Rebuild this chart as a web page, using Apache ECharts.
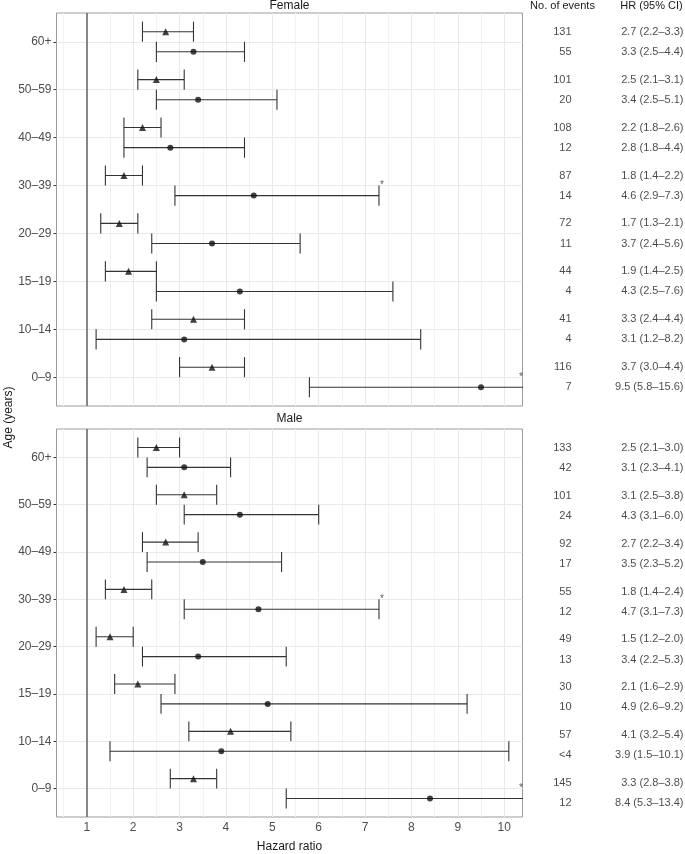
<!DOCTYPE html>
<html><head><meta charset="utf-8">
<script src="https://cdn.jsdelivr.net/npm/echarts@6/dist/echarts.min.js"></script>
<style>html,body{margin:0;padding:0;background:#fff}#c{width:685px;height:854px}</style>
</head><body><div id="c"></div>
<script>
const ageGroups = ['60+', '50–59', '40–49', '30–39', '20–29', '15–19', '10–14', '0–9'];
const xTickValues = [1, 2, 3, 4, 5, 6, 7, 8, 9, 10];
const xMinorValues = [0.5, 1.5, 2.5, 3.5, 4.5, 5.5, 6.5, 7.5, 8.5, 9.5];
const refLine = [1];
const femaleTriEvents = [131, 101, 108, 87, 72, 44, 41, 116];
const femaleTriHR = [2.7, 2.5, 2.2, 1.8, 1.7, 1.9, 3.3, 3.7];
const femaleTriLo = [2.2, 2.1, 1.8, 1.4, 1.3, 1.4, 2.4, 3.0];
const femaleTriHi = [3.3, 3.1, 2.6, 2.2, 2.1, 2.5, 4.4, 4.4];
const femaleCirEvents = [55, 20, 12, 14, 11, 4, 4, 7];
const femaleCirHR = [3.3, 3.4, 2.8, 4.6, 3.7, 4.3, 3.1, 9.5];
const femaleCirLo = [2.5, 2.5, 1.8, 2.9, 2.4, 2.5, 1.2, 5.8];
const femaleCirHi = [4.4, 5.1, 4.4, 7.3, 5.6, 7.6, 8.2, 15.6];
const femaleCirStar = [0, 0, 0, 1, 0, 0, 0, 1];
const maleTriEvents = [133, 101, 92, 55, 49, 30, 57, 145];
const maleTriHR = [2.5, 3.1, 2.7, 1.8, 1.5, 2.1, 4.1, 3.3];
const maleTriLo = [2.1, 2.5, 2.2, 1.4, 1.2, 1.6, 3.2, 2.8];
const maleTriHi = [3.0, 3.8, 3.4, 2.4, 2.0, 2.9, 5.4, 3.8];
const maleCirEvents = [42, 24, 17, 12, 13, 10, '<4', 12];
const maleCirHR = [3.1, 4.3, 3.5, 4.7, 3.4, 4.9, 3.9, 8.4];
const maleCirLo = [2.3, 3.1, 2.3, 3.1, 2.2, 2.6, 1.5, 5.3];
const maleCirHi = [4.1, 6.0, 5.2, 7.3, 5.3, 9.2, 10.1, 13.4];
const maleCirStar = [0, 0, 0, 1, 0, 0, 0, 1];

const FONT = "'Liberation Sans',Arial,Helvetica,sans-serif";
const X_MIN = 0.346, X_MAX = 10.395;
const Y_MIN = -0.6, Y_MAX = 7.6;
const ROW_OFF = 0.21, CAP = 0.21;
const PLOT_LEFT = 56.5, PLOT_W = 466, PANEL_H = 393;
const PANEL_TOPS = [13, 429];
const TABLE_LEFT = 523, TABLE_W = 162;
const COL_EVENTS = (572 - TABLE_LEFT) / TABLE_W;
const COL_HR = (684 - TABLE_LEFT) / TABLE_W;
const BAR_COLOR = '#333';
const TEXT_DARK = '#1a1a1a';
const TICK_TEXT = '#4d4d4d';

const panels = [
  {tri: {ev: femaleTriEvents, hr: femaleTriHR, lo: femaleTriLo, hi: femaleTriHi},
   cir: {ev: femaleCirEvents, hr: femaleCirHR, lo: femaleCirLo, hi: femaleCirHi, star: femaleCirStar}},
  {tri: {ev: maleTriEvents, hr: maleTriHR, lo: maleTriLo, hi: maleTriHi},
   cir: {ev: maleCirEvents, hr: maleCirHR, lo: maleCirLo, hi: maleCirHi, star: maleCirStar}}
];
const catIdx = ageGroups.map((_, i) => i);
function fmtHR(h, l, u) { return h.toFixed(1) + ' (' + l.toFixed(1) + '–' + u.toFixed(1) + ')'; }

function guideLines(g, dim, values, color, width, z) {
  return {type: 'line', xAxisIndex: g, yAxisIndex: g, z: z, silent: true, animation: false, data: [],
    markLine: {silent: true, animation: false, symbol: ['none', 'none'], z: z,
      label: {show: false}, emphasis: {disabled: true},
      lineStyle: {color: color, width: width, type: 'solid'},
      data: values.map(v => ({[dim]: v}))}};
}
function errBars(g, d, off) {
  return {type: 'custom', xAxisIndex: g, yAxisIndex: g, z: 5, silent: true, animation: false, clip: true,
    data: catIdx.map(i => [d.lo[i], d.hi[i], i + off]), encode: {x: [0, 1], y: 2},
    renderItem(params, api) {
      const lo = api.value(0), hi = api.value(1), y = api.value(2);
      const p1 = api.coord([lo, y]), p2 = api.coord([hi, y]);
      const t = api.coord([lo, y - CAP])[1], b = api.coord([lo, y + CAP])[1];
      const st = () => ({stroke: BAR_COLOR, lineWidth: 1.1});
      return {type: 'group', children: [
        {type: 'line', shape: {x1: p1[0], y1: p1[1], x2: p2[0], y2: p2[1]}, style: st()},
        {type: 'line', shape: {x1: p1[0], y1: t, x2: p1[0], y2: b}, style: st()},
        {type: 'line', shape: {x1: p2[0], y1: t, x2: p2[0], y2: b}, style: st()}
      ]};
    }};
}
function points(g, d, off, symbol, size) {
  return {type: 'scatter', xAxisIndex: g, yAxisIndex: g, z: 6, silent: true, animation: false,
    symbol: symbol, symbolSize: size, itemStyle: {color: '#111'},
    data: catIdx.map(i => [d.hr[i], i + off])};
}
function stars(g, d, off) {
  const data = catIdx.filter(i => d.star[i]).map(i => [Math.min(d.hi[i], X_MAX - 0.1), i + off]);
  return {type: 'scatter', xAxisIndex: g, yAxisIndex: g, z: 7, silent: true, animation: false,
    symbolSize: 1, itemStyle: {color: 'transparent'},
    label: {show: true, formatter: '*', position: 'inside', offset: [3, -10],
      fontFamily: FONT, fontSize: 10, color: '#333'},
    data: data};
}
function tableText(g, d, off) {
  const mk = (col, fn) => ({type: 'scatter', xAxisIndex: g, yAxisIndex: g, silent: true, animation: false,
    symbolSize: 1, itemStyle: {color: 'transparent'},
    label: {show: true, position: 'left', distance: 0, formatter: p => p.value[2],
      fontFamily: FONT, fontSize: 11, color: TEXT_DARK},
    data: catIdx.map(i => [col, i + off, fn(i)])});
  return [mk(COL_EVENTS, i => String(d.ev[i])), mk(COL_HR, i => fmtHR(d.hr[i], d.lo[i], d.hi[i]))];
}

const grids = [], xAxes = [], yAxes = [], series = [];
PANEL_TOPS.forEach((top) => {
  grids.push({left: PLOT_LEFT, top: top, width: PLOT_W, height: PANEL_H, show: true,
    borderColor: '#9a9a9a', borderWidth: 1, backgroundColor: 'transparent', containLabel: false});
});
PANEL_TOPS.forEach((top) => {
  grids.push({left: TABLE_LEFT, top: top, width: TABLE_W, height: PANEL_H, show: false, containLabel: false});
});
for (let p = 0; p < 2; p++) {
  const bottom = p === 1;
  xAxes.push({gridIndex: p, type: 'value', min: X_MIN, max: X_MAX,
    axisLine: {show: false}, splitLine: {show: false},
    axisTick: {show: bottom, customValues: xTickValues, length: 3, lineStyle: {color: '#333'}},
    axisLabel: {show: bottom, customValues: xTickValues, margin: 5, fontFamily: FONT, fontSize: 12, color: TICK_TEXT},
    name: bottom ? 'Hazard ratio' : '', nameLocation: 'middle', nameGap: 24,
    nameTextStyle: {fontFamily: FONT, fontSize: 12, color: TEXT_DARK}});
  yAxes.push({gridIndex: p, type: 'value', inverse: true, min: Y_MIN, max: Y_MAX,
    axisLine: {show: false}, splitLine: {show: false},
    axisTick: {show: true, customValues: catIdx, length: 3, lineStyle: {color: '#333'}},
    axisLabel: {show: true, customValues: catIdx, margin: 5, fontFamily: FONT, fontSize: 12, color: TICK_TEXT,
      formatter: v => ageGroups[Math.round(v)]}});
}
for (let p = 0; p < 2; p++) {
  xAxes.push({gridIndex: p + 2, type: 'value', min: 0, max: 1, show: false});
  yAxes.push({gridIndex: p + 2, type: 'value', inverse: true, min: Y_MIN, max: Y_MAX, show: false});
}
for (let p = 0; p < 2; p++) {
  const d = panels[p];
  series.push(guideLines(p, 'xAxis', xMinorValues, '#f3f3f3', 1, 1));
  series.push(guideLines(p, 'xAxis', xTickValues, '#e9e9e9', 1, 2));
  series.push(guideLines(p, 'yAxis', catIdx, '#e9e9e9', 1, 2));
  series.push(guideLines(p, 'xAxis', refLine, '#6b6b6b', 1.6, 3));
  series.push(errBars(p, d.tri, -ROW_OFF));
  series.push(errBars(p, d.cir, ROW_OFF));
  series.push(points(p, d.tri, -ROW_OFF, 'triangle', 7));
  series.push(points(p, d.cir, ROW_OFF, 'circle', 6));
  series.push(stars(p, d.cir, ROW_OFF));
  tableText(p + 2, d.tri, -ROW_OFF).forEach(s => series.push(s));
  tableText(p + 2, d.cir, ROW_OFF).forEach(s => series.push(s));
}

const txt = (text, x, y, size, extra) => Object.assign({type: 'text', x: x, y: y, silent: true,
  style: {text: text, fill: TEXT_DARK, font: size + 'px ' + FONT, align: 'center', verticalAlign: 'middle',
    textAlign: 'center', textVerticalAlign: 'middle'}}, extra || {});

const chart = echarts.init(document.getElementById('c'), null, {renderer: 'canvas'});
chart.setOption({
  animation: false,
  backgroundColor: '#fff',
  grid: grids, xAxis: xAxes, yAxis: yAxes, series: series,
  graphic: [
    txt('Female', PLOT_LEFT + PLOT_W / 2, 5.5, 12),
    txt('Male', PLOT_LEFT + PLOT_W / 2, 419, 12),
    txt('No. of events', 562.5, 5.5, 11),
    txt('HR (95% CI)', 651.5, 5.5, 11),
    txt('Age (years)', 9, 417.5, 12, {rotation: Math.PI / 2})
  ]
});
</script></body></html>
